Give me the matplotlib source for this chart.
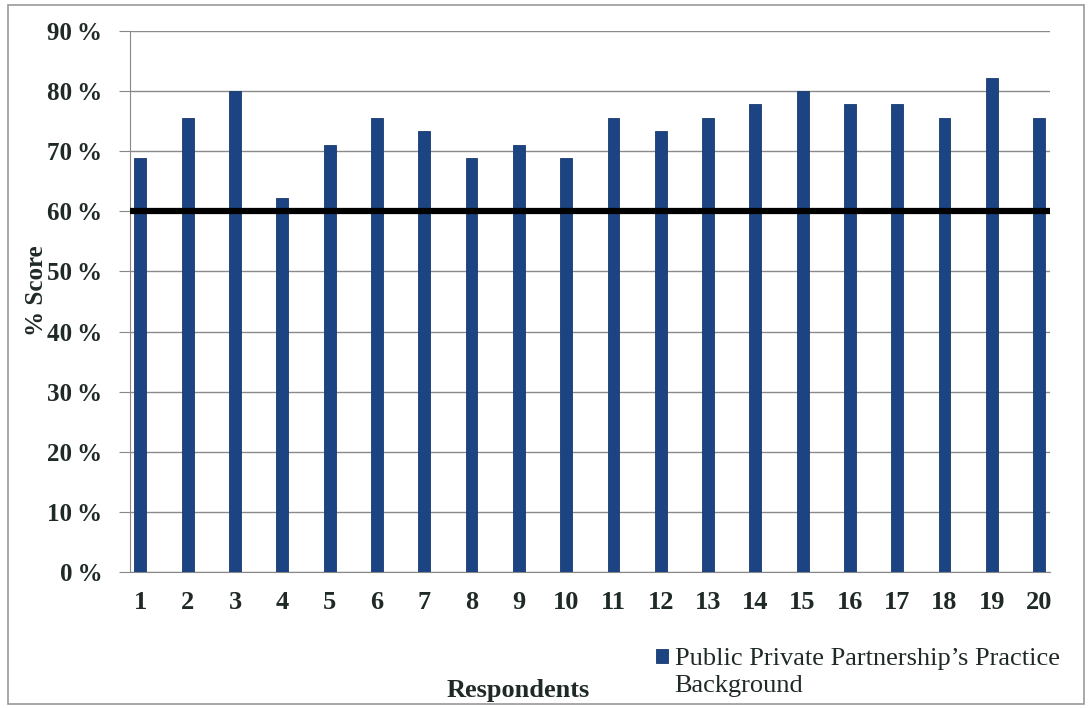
import matplotlib.pyplot as plt
from matplotlib.patches import Rectangle

respondents = list(range(1, 21))
scores = [68.9, 75.6, 80.0, 62.2, 71.1, 75.6, 73.3, 68.9, 71.1, 68.9,
          75.6, 73.3, 75.6, 77.8, 80.0, 77.8, 77.8, 75.6, 82.2, 75.6]
threshold = 60
y_ticks = [0, 10, 20, 30, 40, 50, 60, 70, 80, 90]
series_name = ["Public Private Partnership\u2019s Practice", "Background"]

plt.rcParams['font.family'] = ['Liberation Serif', 'DejaVu Serif']
txt = '#1f2a27'

fig = plt.figure(figsize=(10.91, 7.08), dpi=100)
ax = fig.add_axes([130 / 1091, 1 - 572 / 708, 920 / 1091, 541 / 708])

bars = ax.bar(respondents, scores, width=0.25, color='#1c4482',
              edgecolor='#173a6e', linewidth=0.6, zorder=3)
ax.axhline(threshold, color='black', linewidth=4.5, zorder=4)

ax.set_ylim(0, 90)
ax.set_xlim(0.78, 20.23)
ax.set_yticks(y_ticks)
ax.set_yticklabels([f"{v}\u2009%" for v in y_ticks], fontsize=18,
                   fontweight='bold', color=txt)
ax.set_xticks(respondents)
ax.set_xticklabels([str(r) for r in respondents], fontsize=19,
                   fontweight='bold', color=txt)
ax.tick_params(axis='y', length=8, width=0.8, color='#888888', pad=12)
ax.tick_params(axis='x', length=0, pad=14)
ax.grid(axis='y', color='#8a8a8a', linewidth=1.0, zorder=0)
for side in ['top', 'right']:
    ax.spines[side].set_visible(False)
ax.spines['left'].set_color('#888888')
ax.spines['bottom'].set_color('#888888')

ax.set_ylabel('% Score', fontsize=18, fontweight='bold', color=txt)
ax.yaxis.set_label_coords(-82 / 920, 0.52)
fig.text(518 / 1091, 1 - 690 / 708, 'Respondents', fontsize=19,
         fontweight='bold', ha='center', va='center', color=txt)

# legend: square sits beside the first line, second line wraps underneath
fig.legend(handles=[bars], labels=[series_name[0]], loc='upper left',
           bbox_to_anchor=(638 / 1091, 1 - 630 / 708), frameon=False,
           fontsize=19, handlelength=0.45, handleheight=0.45,
           handletextpad=0.25, labelcolor=txt, borderpad=0.2)
fig.text(674 / 1091, 1 - 686 / 708, series_name[1], fontsize=19,
         ha='left', va='center', color=txt)

# outer chart border
fig.patches.append(Rectangle((8 / 1091, 4 / 708), 1076 / 1091, 699 / 708,
                             transform=fig.transFigure, fill=False,
                             edgecolor='#9a9a9a', linewidth=1.2))

fig.savefig('out.png', dpi=100)
